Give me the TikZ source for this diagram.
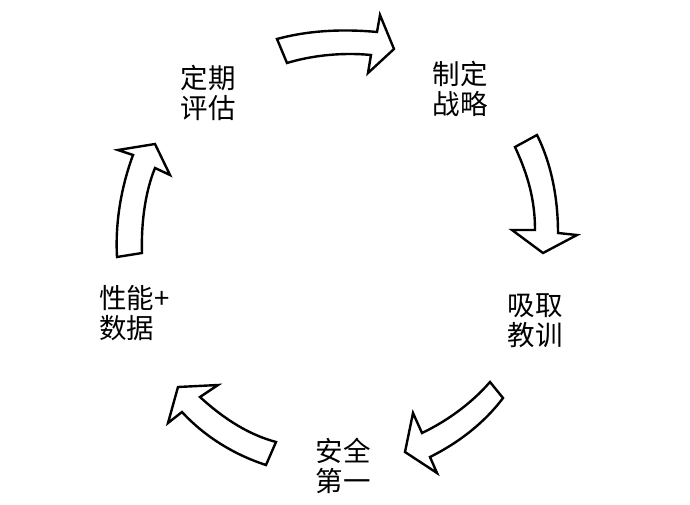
\documentclass[tikz,border=0pt]{standalone}
\usepackage{fontspec}
\newfontfamily\cjk{Noto Sans CJK SC}
\tikzset{
  blockarrow/.style={draw=black, fill=white, line width=2.4pt, line join=miter},
  lbl/.style={font=\cjk\fontsize{27.5}{30}\selectfont, align=left, inner sep=0pt, text=black}
}
\begin{document}
\begin{tikzpicture}[x=1pt,y=-1pt]
\useasboundingbox (0,0) rectangle (690,505);
\fill[white] (0,0) rectangle (690,505);
% labels
\node[lbl] (pinggu) at (208,93) {定期\\评估};
\node[lbl] (zhanlue) at (460,89) {制定\\战略};
\node[lbl] (jiaoxun) at (535,321) {吸取\\教训};
\node[lbl] (anquan) at (343,466) {安全\\第一};
\node[lbl, anchor=west] (shuju) at (99,313) {性能+\\数据};
% arrow 1 (top)
\draw[blockarrow] (277,39) .. controls (310,30) and (345,29) .. (377,32)
  -- (380,15) -- (394,49) -- (368,73) -- (371,55)
  .. controls (340,52) and (310,56) .. (287,63) -- cycle;
% arrow 2 (right, down)
\draw[blockarrow] (537,135) .. controls (552,165) and (558,200) .. (558,233)
  -- (577,235) -- (543,253) -- (512,230) -- (535,230)
  .. controls (535,200) and (528,175) .. (515,147) -- cycle;
% arrow 3 (bottom right)
\draw[blockarrow] (490,382) .. controls (470,405) and (445,422) .. (422,433)
  -- (413,413) -- (405,452) -- (437,473) -- (430,457)
  .. controls (460,442) and (485,422) .. (503,398) -- cycle;
% arrow 4 (bottom left)
\draw[blockarrow] (276,442) .. controls (250,435) and (225,420) .. (200,397)
  -- (218,385) -- (178,387) -- (168,423) -- (182,412)
  .. controls (205,437) and (235,455) .. (266,465) -- cycle;
% arrow 5 (left, up)
\draw[blockarrow] (117,257) .. controls (115,220) and (122,185) .. (133,155)
  -- (118,150) -- (155,144) -- (170,175) -- (155,168)
  .. controls (146,190) and (141,220) .. (142,253) -- cycle;
\end{tikzpicture}
\end{document}
